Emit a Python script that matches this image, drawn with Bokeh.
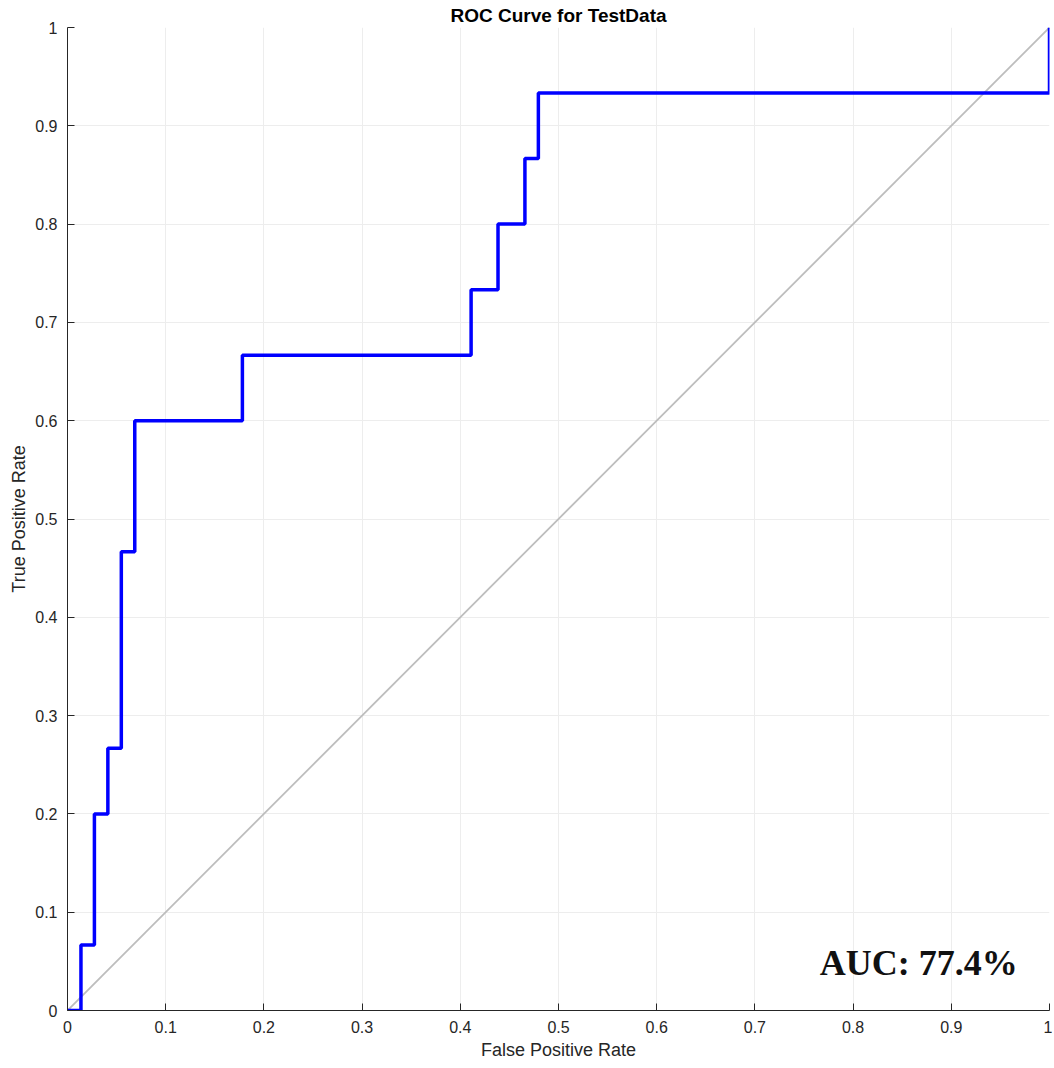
from bokeh.plotting import figure
from bokeh.models import FixedTicker, Label
from bokeh.embed import file_html
from bokeh.resources import INLINE

# ROC curve staircase (false positive rate, true positive rate)
fpr = [0.0, 0.0137, 0.0137, 0.0274, 0.0274, 0.0411, 0.0411, 0.0548, 0.0548, 0.0685, 0.0685,
       0.1781, 0.1781, 0.4110, 0.4110, 0.4384, 0.4384, 0.4658, 0.4658, 0.4795, 0.4795, 1.0, 1.0]
tpr = [0.0, 0.0, 0.0667, 0.0667, 0.2, 0.2, 0.2667, 0.2667, 0.4667, 0.4667, 0.6,
       0.6, 0.6667, 0.6667, 0.7333, 0.7333, 0.8, 0.8, 0.8667, 0.8667, 0.9333, 0.9333, 1.0]
chance_x = [0.0, 1.0]
chance_y = [0.0, 1.0]
ticks = [0.0, 0.1, 0.2, 0.3, 0.4, 0.5, 0.6, 0.7, 0.8, 0.9, 1.0]
tick_labels = ["0", "0.1", "0.2", "0.3", "0.4", "0.5", "0.6", "0.7", "0.8", "0.9", "1"]
auc_text = "AUC: 77.4%"
title_text = "ROC Curve for TestData"

p = figure(width=1052, height=1066, output_backend="svg", toolbar_location=None,
           x_range=(0, 1), y_range=(0, 1), title=title_text,
           min_border_left=67, min_border_right=3, min_border_bottom=56, min_border_top=0)

p.title.align = "center"
p.title.text_font = "Liberation Sans"
p.title.text_font_size = "19px"
p.title.text_font_style = "bold"
p.title.text_color = "#000000"
p.title.standoff = 4
p.title.offset = 0

p.outline_line_color = None
p.background_fill_color = "white"
p.border_fill_color = "white"

label_map = {t: l for t, l in zip(ticks, tick_labels)}
for ax in (p.xaxis[0], p.yaxis[0]):
    ax.ticker = FixedTicker(ticks=ticks)
    ax.major_label_overrides = label_map
    ax.major_tick_in = 7
    ax.major_tick_out = 0
    ax.minor_tick_line_color = None
    ax.axis_line_color = "#262626"
    ax.major_tick_line_color = "#262626"
    ax.major_label_text_font = "Liberation Sans"
    ax.major_label_text_font_size = "16px"
    ax.major_label_text_color = "#262626"
    ax.axis_label_text_font = "Liberation Sans"
    ax.axis_label_text_font_size = "18px"
    ax.axis_label_text_font_style = "normal"
    ax.axis_label_text_color = "#262626"

p.xaxis.axis_label = "False Positive Rate"
p.yaxis.axis_label = "True Positive Rate"
p.xaxis.major_label_standoff = 10
p.yaxis.major_label_standoff = 10
p.xaxis.axis_label_standoff = 4
p.yaxis.axis_label_standoff = 3

p.grid.grid_line_color = "#ededed"
p.grid.grid_line_width = 1
p.xgrid.ticker = FixedTicker(ticks=ticks)
p.ygrid.ticker = FixedTicker(ticks=ticks)

p.line(chance_x, chance_y, line_color="#bdbdbd", line_width=1.8)
p.line(fpr, tpr, line_color="#0000ff", line_width=3.5)

p.add_layout(Label(x=0.766, y=0.028, text=auc_text, text_font="Liberation Serif",
                   text_font_size="36px", text_font_style="bold", text_color="#111111"))

open("out.html", "w").write(file_html(p, INLINE))
